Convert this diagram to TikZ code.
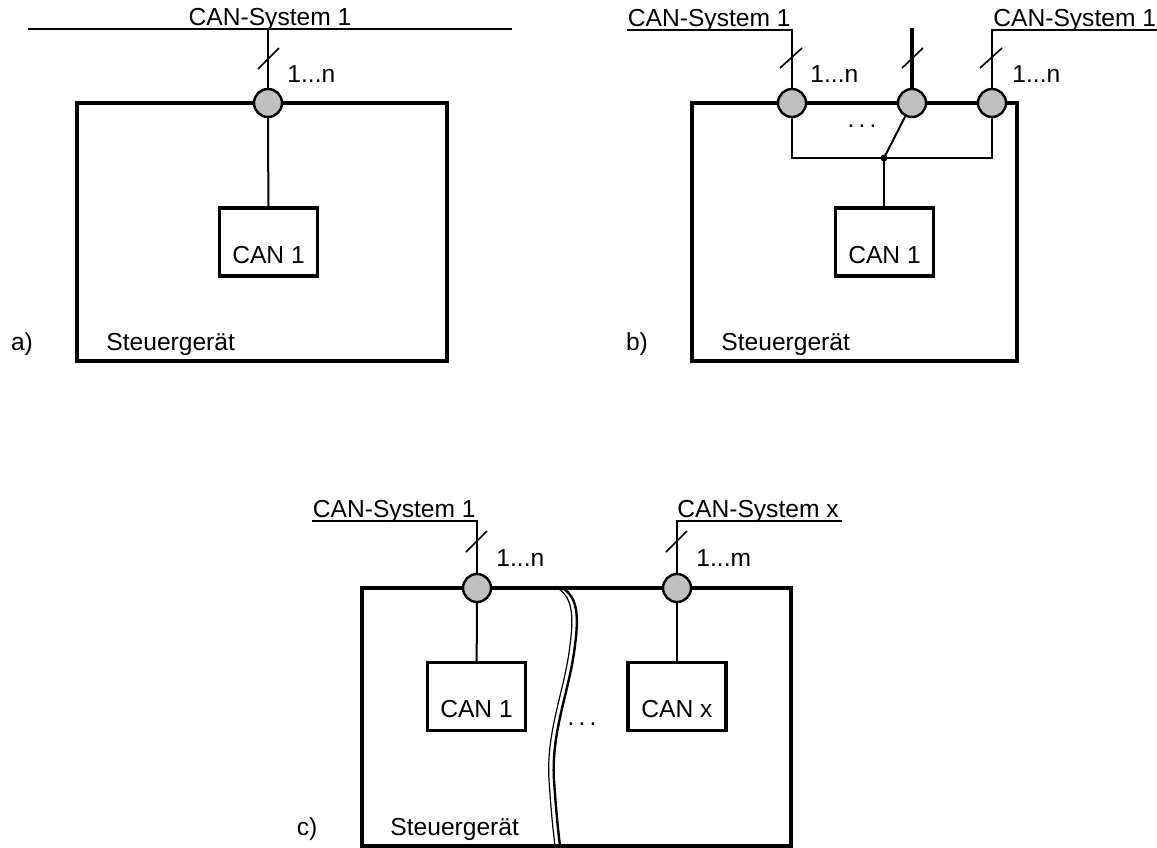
\documentclass[tikz,border=0pt]{standalone}
\usepackage{fontspec}
\setmainfont{Liberation Sans}
\usetikzlibrary{positioning,calc}
\definecolor{portgray}{RGB}{192,192,192}

\begin{document}
\begin{tikzpicture}[x=0.5pt,y=-0.5pt,
  txt/.style={font=\fontsize{12.3}{14}\selectfont,inner sep=0pt},
  ecu/.style={draw,line width=1.75pt,inner sep=0pt},
  ctrl/.style={draw,line width=1.75pt,minimum width=49pt,minimum height=34pt,
              text height=22pt,text depth=1pt,font=\fontsize{12.3}{14}\selectfont},
  port/.style={circle,draw,line width=1.2pt,fill=portgray,minimum size=14pt,inner sep=0pt},
  wire/.style={line width=1pt},
  bus/.style={line width=0.9pt},
  tick/.style={line width=0.8pt}
]
  \useasboundingbox (0,0) rectangle (1157,847);

  % a) one CAN system
  \node[ecu,minimum width=185pt,minimum height=129pt] (ecuA) at (262,232) {};
  \node[ctrl] (canA) at (268.5,242) {CAN 1};
  \coordinate (sysAl) at (28,29);
  \coordinate (sysAr) at (512,29);
  \coordinate (tapA) at (268,29);
  \draw[line width=1.1pt] (sysAl) -- (sysAr);
  \node[txt,anchor=base] (nameA) at (270,25) {CAN-System 1};
  \node[port] (portA) at (268,103) {};
  \draw[bus] (tapA) -- (portA);
  \draw[tick] (258,69) -- (279,48);
  \node[txt,anchor=base west] (cntA) at (287,82) {1...n};
  \draw[wire] (portA) -- (canA);
  \node[txt,anchor=base west] (stA) at (106,350) {Steuergerät};
  \node[txt,anchor=base] (tagA) at (22,350) {a)};

  % b) several ports, one controller
  \node[ecu,minimum width=162.5pt,minimum height=129pt] (ecuB) at (854.5,232) {};
  \node[ctrl] (canB) at (884.5,242) {CAN 1};
  \node[port] (portB1) at (792,103) {};
  \node[port] (portB2) at (912,103) {};
  \node[port] (portB3) at (992,103) {};
  \coordinate (sysBl) at (627,30);
  \coordinate (sysBr) at (1157,30);
  \coordinate (topB) at (912,28);
  \draw[bus] (sysBl) -| (portB1);
  \draw[line width=1.6pt] (topB) -- (portB2);
  \draw[bus] (sysBr) -| (portB3);
  \node[txt,anchor=base east] (nameB1) at (791,26) {CAN-System 1};
  \node[txt,anchor=base west] (nameB3) at (993,26) {CAN-System 1};
  \draw[tick] (780,68) -- (802,48);
  \draw[tick] (902,68) -- (923,48);
  \draw[tick] (980,68) -- (1002,48);
  \node[txt,anchor=base west] (cntB1) at (810,82) {1...n};
  \node[txt,anchor=base west] (cntB3) at (1012,82) {1...n};
  \node[txt] (dotsB) at (862,126) {.\,.\,.};
  % switch onto the bus
  \coordinate (junc) at (884,158);
  \draw[wire] (portB1) |- (junc) -| (portB3);
  \draw[wire] (portB2) -- (junc);
  \draw[wire] (junc) -- (junc |- canB.north);
  \fill (junc) circle (3.5);
  \node[txt,anchor=base west] (stB) at (721,350) {Steuergerät};
  \node[txt,anchor=base] (tagB) at (637,350) {b)};

  % c) several systems, several controllers
  \node[ecu,minimum width=214.5pt,minimum height=129pt] (ecuC) at (576.5,717) {};
  \node[ctrl] (canC1) at (476.5,696.5) {CAN 1};
  \node[ctrl] (canCx) at (677,696.5) {CAN x};
  \node[port] (portC1) at (477,588) {};
  \node[port] (portCx) at (677,588) {};
  \coordinate (sysC1) at (312,521);
  \coordinate (sysCx) at (842,521);
  \draw[bus] (sysC1) -| (portC1);
  \draw[bus] (sysCx) -| (portCx);
  \node[txt,anchor=base east] (nameC1) at (476,517) {CAN-System 1};
  \node[txt,anchor=base west] (nameCx) at (677,517) {CAN-System x};
  \draw[tick] (466,552) -- (487,531);
  \draw[tick] (666,552) -- (687,531);
  \node[txt,anchor=base west] (cntC1) at (496,566) {1...n};
  \node[txt,anchor=base west] (cntCx) at (696,566) {1...m};
  \draw[wire] (portC1) -- (canC1);
  \draw[wire] (portCx) -- (canCx);
  % break line
  \draw[line width=0.6pt] (559,589) .. controls (572,598) and (574,615) .. (570,645)
    .. controls (565,690) and (546,730) .. (549,780) .. controls (551,810) and (553,830) .. (555,846);
  \draw[line width=1.2pt,xshift=2.5pt] (559,589) .. controls (572,598) and (574,615) .. (570,645)
    .. controls (565,690) and (546,730) .. (549,780) .. controls (551,810) and (553,830) .. (555,846);
  \node[txt] (dotsC) at (582,724) {.\,.\,.};
  \node[txt,anchor=base west] (stC) at (390,835) {Steuergerät};
  \node[txt,anchor=base] (tagC) at (307,835) {c)};
\end{tikzpicture}
\end{document}
